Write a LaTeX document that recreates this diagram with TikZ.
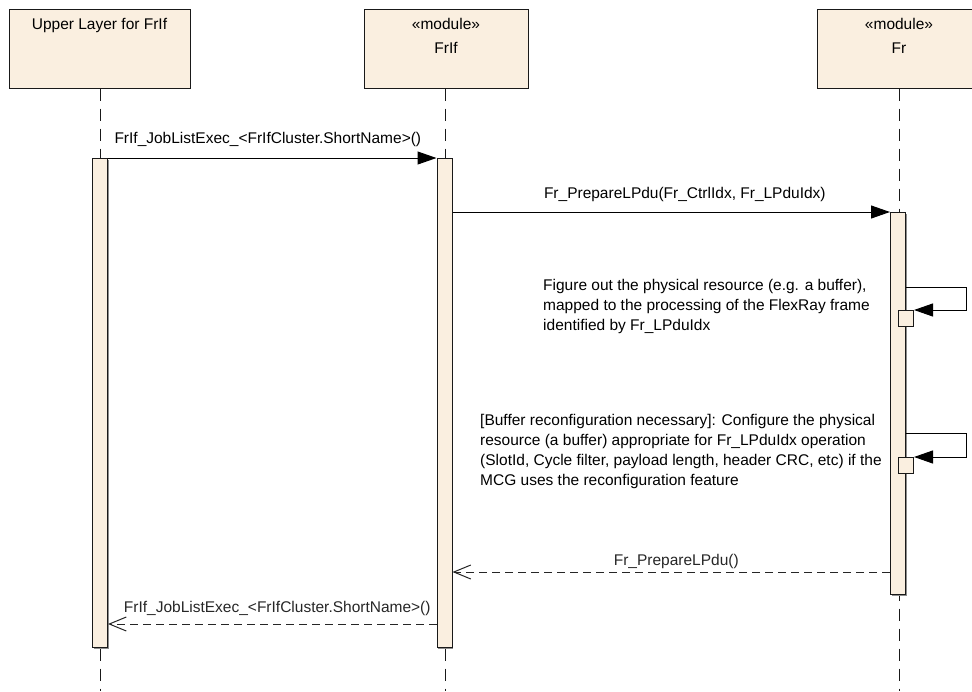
\documentclass[tikz,border=0pt]{standalone}
\usepackage{fontspec}
\setmainfont{Liberation Sans}
\usepackage{tikz}
\usetikzlibrary{arrows.meta,shadows}
\definecolor{beige}{RGB}{250,239,224}
\tikzstyle{shade1}=[drop shadow={shadow xshift=1pt,shadow yshift=-1pt,fill=black!45,opacity=1}]
\tikzstyle{head}=[rectangle,draw=black!90,line width=1pt,fill=beige,shade1,text=black,minimum width=164pt,minimum height=76pt,anchor=north,align=center,font=\fontsize{15.5}{24}\selectfont]
\tikzstyle{bar}=[rectangle,draw=black!90,line width=1pt,fill=beige,shade1,minimum width=15pt,anchor=north,inner sep=0pt]
\tikzstyle{nest}=[rectangle,draw=black!90,line width=1pt,fill=beige,minimum width=15pt,minimum height=16pt,anchor=north west,inner sep=0pt]
\tikzstyle{life}=[black!90,line width=1pt,dash pattern=on 12pt off 8pt]
\tikzstyle{call}=[-{Triangle[length=19pt,width=13pt]},black,line width=1pt]
\tikzstyle{reply}=[-{Straight Barb[length=17pt,width=14pt]},black!85,line width=1pt,dash pattern=on 8pt off 5pt]
\tikzstyle{msg}=[font=\fontsize{15.5}{20}\selectfont,inner sep=0pt]
\tikzstyle{note}=[msg,align=left,anchor=west]

\begin{document}
\begin{tikzpicture}[x=1pt,y=-1pt]
  \useasboundingbox (0,0) rectangle (972,691);

  \node[head,minimum width=181pt] (U) at (99.5,9) {\strut Upper Layer for FrIf\\\strut\\\strut};
  \node[head] (I) at (446,9) {\strut«module»\\FrIf\\\strut};
  \node[head] (F) at (899,9) {\strut«module»\\Fr\\\strut};

  \coordinate (Uend) at (100,691); \coordinate (Iend) at (445,691); \coordinate (Fend) at (899,691);
  \draw[life] (U.south -| Uend)--(Uend); \draw[life] (I.south -| Iend)--(Iend); \draw[life] (F.south)--(Fend);

  \node[bar,minimum height=489pt] (UB) at (100,158) {};
  \node[bar,minimum height=489pt] (IB) at (444.5,158) {};
  \node[bar,minimum height=382pt] (FB) at (898,212) {};
  \node[nest] (N1) at (898,310) {};
  \node[nest] (N2) at (898,457) {};

  \draw[call] (UB.north east)--(IB.north west)node[pos=0,anchor=base west,msg,xshift=6pt,yshift=14.5pt]{FrIf\_JobListExec\_<FrIfCluster.ShortName>()};
  \draw[call] (IB.east |- FB.north)--(FB.north west)node[pos=0,anchor=base west,msg,xshift=91pt,yshift=14pt]{Fr\_PrepareLPdu(Fr\_CtrlIdx, Fr\_LPduIdx)};
  % self calls on Fr
  \coordinate (S1) at (FB.east |- 0,287); \coordinate (S2) at (FB.east |- 0,433.5);
  \draw[call] (S1)--(966,287)--(966,310)--(N1.north east);
  \draw[call] (S2)--(966,433.5)--(966,457)--(N2.north east);
  \node[note] (T1) at (543,306) {Figure out the physical resource (e.g. a buffer),\\mapped to the processing of the FlexRay frame\\identified by Fr\_LPduIdx};
  \node[note] (T2) at (480,451) {[Buffer reconfiguration necessary]: Configure the physical\\resource (a buffer) appropriate for Fr\_LPduIdx operation\\(SlotId, Cycle filter, payload length, header CRC, etc) if the\\MCG uses the reconfiguration feature};
  % returns
  \coordinate (R1) at (FB.west |- 0,572); \coordinate (R2) at (IB.west |- 0,624);
  \draw[reply] (R1)--(IB.east |- R1)node[midway,anchor=base,msg,xshift=5pt,yshift=7pt]{Fr\_PrepareLPdu()};
  \draw[reply] (R2)--(UB.east |- R2)node[midway,anchor=base,msg,xshift=5pt,yshift=12pt]{FrIf\_JobListExec\_<FrIfCluster.ShortName>()};

\end{tikzpicture}
\end{document}
